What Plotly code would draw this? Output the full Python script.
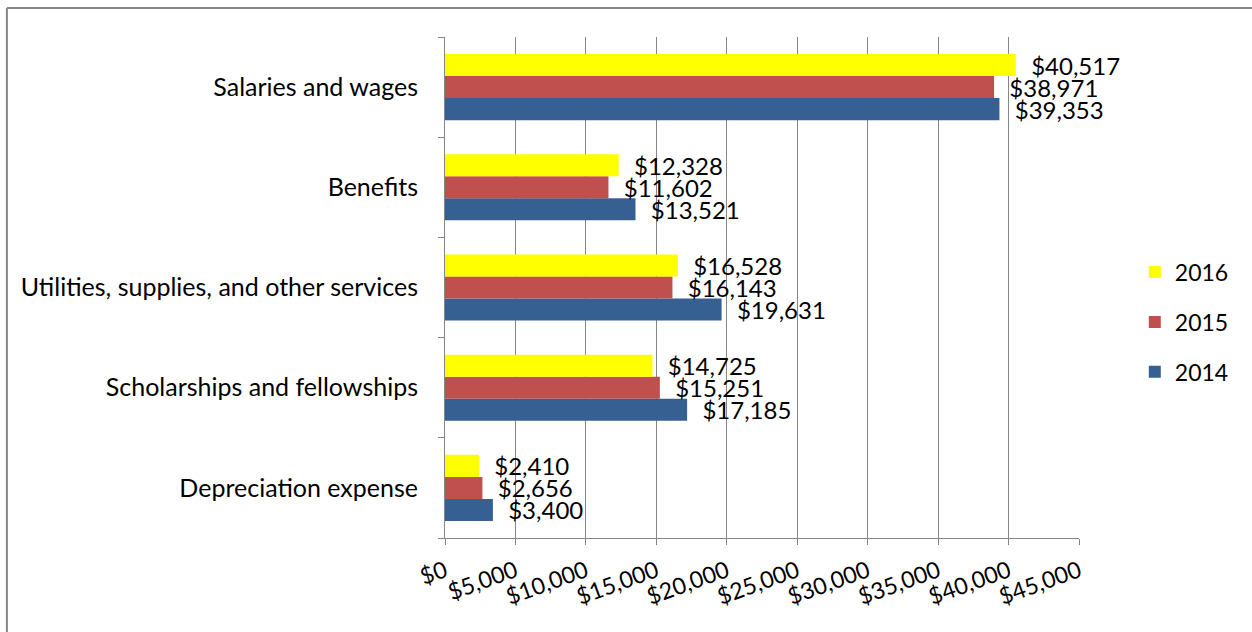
import plotly.graph_objects as go

# Operating expenses by category (thousands of dollars)
categories = [
    "Depreciation expense",
    "Scholarships and fellowships",
    "Utilities, supplies, and other services",
    "Benefits",
    "Salaries and wages",
]
years = ["2014", "2015", "2016"]
values_2014 = [3400, 17185, 19631, 13521, 39353]
values_2015 = [2656, 15251, 16143, 11602, 38971]
values_2016 = [2410, 14725, 16528, 12328, 40517]
x_ticks = [0, 5000, 10000, 15000, 20000, 25000, 30000, 35000, 40000, 45000]
x_tick_labels = ["$0", "$5,000", "$10,000", "$15,000", "$20,000", "$25,000",
                 "$30,000", "$35,000", "$40,000", "$45,000"]

# (year, values, colour, legend rank) - newest year listed first in the legend
series = [
    ("2014", values_2014, "#376092", 3),
    ("2015", values_2015, "#C0504D", 2),
    ("2016", values_2016, "#FFFF00", 1),
]

FONT = "Lato"
fig = go.Figure()
for name, vals, color, rank in series:
    fig.add_trace(go.Bar(
        y=categories,
        x=vals,
        name=name,
        orientation="h",
        marker=dict(color=color, line=dict(width=0)),
        texttemplate="  $%{x:,.0f}",
        textposition="outside",
        constraintext="none",
        cliponaxis=False,
        textfont=dict(family=FONT, size=24, color="#000000"),
        legendgroup=name,
        legendrank=rank,
    ))

fig.update_layout(
    width=1252,
    height=632,
    barmode="group",
    bargap=0.34,
    bargroupgap=0,
    plot_bgcolor="white",
    paper_bgcolor="white",
    margin=dict(l=445, r=173, t=37, b=94),
    font=dict(family=FONT, size=25, color="#000000"),
    showlegend=True,
    legend=dict(
        x=1.088, xanchor="left",
        y=0.431, yanchor="middle",
        traceorder="grouped",
        tracegroupgap=17,
        font=dict(family=FONT, size=23, color="#000000"),
        itemwidth=30,
    ),
    xaxis=dict(
        range=[0, 45000],
        tickvals=x_ticks,
        ticktext=x_tick_labels,
        tickangle=-20,
        showgrid=True,
        gridcolor="#868686",
        gridwidth=1,
        showline=True,
        linecolor="#868686",
        linewidth=1,
        ticks="outside",
        ticklen=6,
        tickcolor="#868686",
        zeroline=False,
        ticklabelstandoff=4,
        tickfont=dict(family=FONT, size=23, color="#000000"),
    ),
    yaxis=dict(
        categoryorder="array",
        categoryarray=categories,
        showgrid=False,
        showline=True,
        linecolor="#868686",
        linewidth=1,
        ticks="outside",
        ticklen=6,
        tickcolor="#868686",
        tickson="boundaries",
        ticklabelstandoff=21,
        tickfont=dict(family=FONT, size=25, color="#000000"),
    ),
    shapes=[
        dict(type="line", xref="paper", yref="paper",
             x0=-0.691, x1=1.3, y0=1.058, y1=1.058,
             line=dict(color="#888888", width=2)),
        dict(type="line", xref="paper", yref="paper",
             x0=-0.691, x1=-0.691, y0=1.058, y1=-0.25,
             line=dict(color="#888888", width=2)),
    ],
)

fig.write_html("out.html")
